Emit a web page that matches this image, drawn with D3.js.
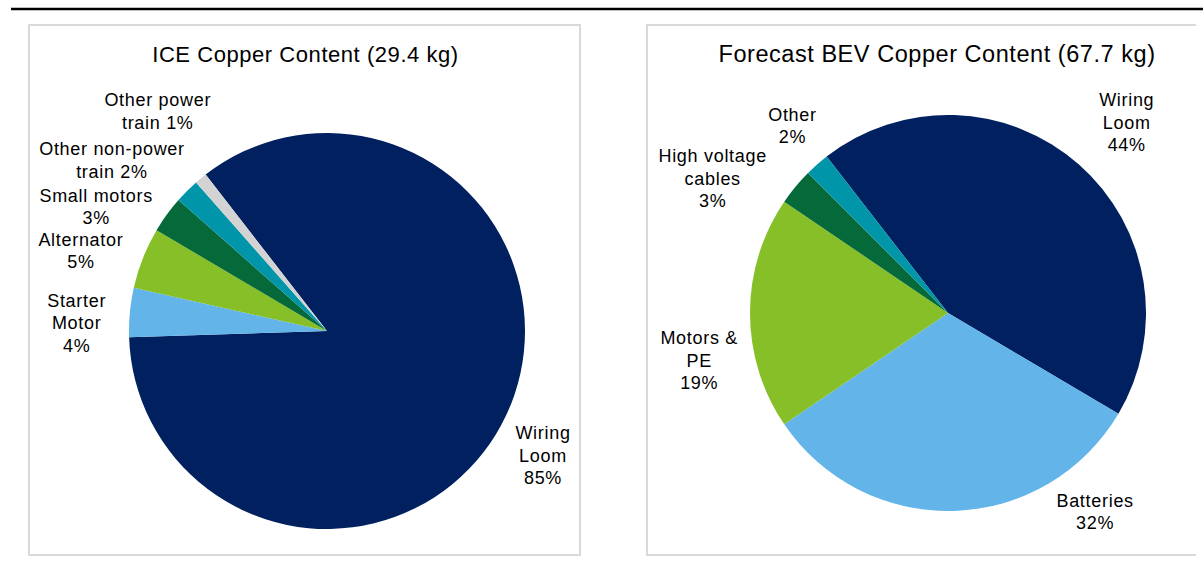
<!DOCTYPE html>
<html>
<head>
<meta charset="utf-8">
<script src="https://cdn.jsdelivr.net/npm/d3@7"></script>
<style>
  html, body { margin: 0; padding: 0; background: #fff; }
  svg { display: block; }
  text { font-family: "Liberation Sans", Arial, sans-serif; fill: #000; }
</style>
</head>
<body>
<svg id="chart" width="1203" height="569"></svg>
<script>
// ICE vehicle copper content breakdown (%)
const iceCategories = ["Wiring Loom", "Starter Motor", "Alternator", "Small motors", "Other non-power train", "Other power train"];
const iceLabelLines = [["Wiring", "Loom"], ["Starter", "Motor"], ["Alternator"], ["Small motors"], ["Other non-power", "train"], ["Other power", "train"]];
const iceValues = [85, 4, 5, 3, 2, 1];
const iceTitle = "ICE Copper Content (29.4 kg)";

// Forecast BEV copper content breakdown (%)
const bevCategories = ["Wiring Loom", "Batteries", "Motors & PE", "High voltage cables", "Other"];
const bevLabelLines = [["Wiring", "Loom"], ["Batteries"], ["Motors &", "PE"], ["High voltage", "cables"], ["Other"]];
const bevValues = [44, 32, 19, 3, 2];
const bevTitle = "Forecast BEV Copper Content (67.7 kg)";

// Slice colours
const iceColors = ["#002060", "#62b4e9", "#86bf27", "#05693a", "#0095a8", "#d3d3d3"];
const bevColors = ["#002060", "#62b4e9", "#86bf27", "#05693a", "#0095a8"];

// Hand adjustments of label blocks relative to their default outside position
const iceLabelNudge = [[-8, 18], [-2, 15], [-2, 7], [-7, 15], [-8, -3], [5, -37]];
const bevLabelNudge = [[15, -4], [139, -39], [10, 47], [-24, 24], [6, -9]];

const svg = d3.select("#chart");

// Rule across the top of the page
svg.append("line")
  .attr("x1", 11).attr("x2", 1203)
  .attr("y1", 9).attr("y2", 9)
  .attr("stroke", "#000").attr("stroke-width", 2.5);

const fontSize = 18;
const labelSpacing = 0.7;
const lineHeight = 22.5;
const capH = 13;
const startDeg = 322.2;

function drawPanel(opt) {
  const g = svg.append("g");

  // Panel frame (right side is open on the second panel)
  const fr = opt.frame;
  const framePath = d3.path();
  if (opt.openRight) {
    framePath.moveTo(fr.x1, fr.y0);
    framePath.lineTo(fr.x0, fr.y0);
    framePath.lineTo(fr.x0, fr.y1);
    framePath.lineTo(fr.x1, fr.y1);
  } else {
    framePath.rect(fr.x0, fr.y0, fr.x1 - fr.x0, fr.y1 - fr.y0);
  }
  g.append("path")
    .attr("d", framePath.toString())
    .attr("fill", "none")
    .attr("stroke", "#d9d9d9")
    .attr("stroke-width", 2);

  g.append("text")
    .attr("x", opt.titleX).attr("y", opt.titleY)
    .attr("text-anchor", "middle")
    .style("font-size", opt.titleSize + "px")
    .style("letter-spacing", "0.55px")
    .text(opt.title);

  const start = startDeg * Math.PI / 180;
  const pie = d3.pie().sort(null).value(d => d.value)
    .startAngle(start).endAngle(start + 2 * Math.PI);
  const arc = d3.arc().innerRadius(0).outerRadius(opt.r);

  const data = opt.values.map((v, i) => ({ value: v, name: opt.categories[i], idx: i }));
  const arcs = pie(data);

  const pg = g.append("g").attr("transform", `translate(${opt.cx},${opt.cy})`);
  pg.selectAll("path.slice")
    .data(arcs)
    .join("path")
    .attr("class", "slice")
    .attr("d", arc)
    .attr("fill", d => opt.colors[d.data.idx]);

  // Labels: name lines followed by percentage
  const R = opt.r + 22;
  arcs.forEach(a => {
    const i = a.data.idx;
    const lines = opt.labelLines[i].slice();
    const pct = `${a.data.value}%`;
    if (lines.length === 2 && opt.pctInline[i]) {
      lines[1] = lines[1] + " " + pct;
    } else {
      lines.push(pct);
    }
    const t = pg.append("text")
      .attr("text-anchor", "middle")
      .style("font-size", fontSize + "px")
      .style("letter-spacing", labelSpacing + "px");
    const spans = lines.map(l => t.append("tspan").attr("x", 0).attr("y", 0).text(l));
    const w = d3.max(spans, s => s.node().getComputedTextLength());
    const n = lines.length;
    const h = (n - 1) * lineHeight + capH;
    const mid = (a.startAngle + a.endAngle) / 2;
    const s = Math.sin(mid), c = -Math.cos(mid);
    const px = R * s, py = R * c;
    const nud = opt.nudge[i];
    const cxL = px + (w / 2) * s + nud[0];
    const cyL = py + (h / 2) * c + nud[1];
    const firstBase = cyL - h / 2 + capH;
    spans.forEach((sp, k) => sp.attr("x", cxL).attr("y", firstBase + k * lineHeight));
  });
}

drawPanel({
  frame: { x0: 29, y0: 25, x1: 580, y1: 555 },
  title: iceTitle, titleX: 305.5, titleY: 62, titleSize: 22,
  cx: 327, cy: 331, r: 198,
  values: iceValues, categories: iceCategories, labelLines: iceLabelLines,
  colors: iceColors, nudge: iceLabelNudge,
  pctInline: [false, false, false, false, true, true]
});

drawPanel({
  frame: { x0: 647, y0: 25, x1: 1196, y1: 555 }, openRight: true,
  title: bevTitle, titleX: 937, titleY: 62, titleSize: 23.5,
  cx: 948, cy: 313, r: 198,
  values: bevValues, categories: bevCategories, labelLines: bevLabelLines,
  colors: bevColors, nudge: bevLabelNudge,
  pctInline: [false, false, false, false, false]
});
</script>
</body>
</html>
